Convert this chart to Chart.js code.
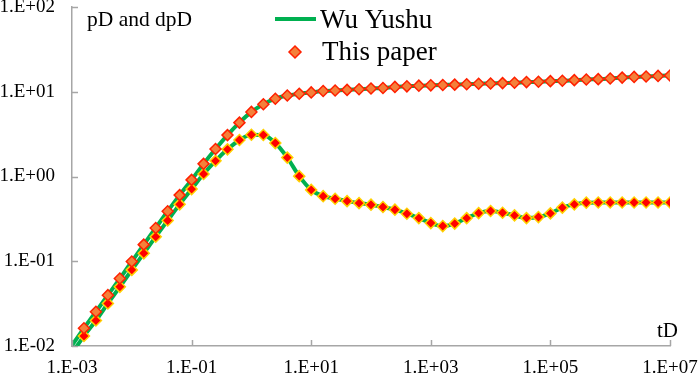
<!DOCTYPE html>
<html><head><meta charset="utf-8">
<script src="https://cdn.jsdelivr.net/npm/chart.js@4.4.0/dist/chart.umd.min.js"></script>
<style>html,body{margin:0;padding:0;background:#fff;}#wrap{width:699px;height:376px;position:relative;}</style>
</head><body><div id="wrap"><canvas id="c" width="699" height="376"></canvas></div>
<script>
// dimensionless time (markers every 0.2 log cycle)
const tD = [
 1.585e-3,2.512e-3,3.981e-3,6.310e-3,
 1e-2,1.585e-2,2.512e-2,3.981e-2,6.310e-2,
 1e-1,1.585e-1,2.512e-1,3.981e-1,6.310e-1,
 1,1.585,2.512,3.981,6.310,
 10,15.85,25.12,39.81,63.10,
 100,158.5,251.2,398.1,631.0,
 1e3,1.585e3,2.512e3,3.981e3,6.310e3,
 1e4,1.585e4,2.512e4,3.981e4,6.310e4,
 1e5,1.585e5,2.512e5,3.981e5,6.310e5,
 1e6,1.585e6,2.512e6,3.981e6,6.310e6,
 1e7
];
// This paper: pD
const paperPD = [
 0.0162,0.0254,0.0398,0.0625,
 0.0991,0.157,0.247,0.389,0.603,
 0.912,1.41,2.11,3.08,4.32,
 5.78,7.13,8.28,9.02,9.46,
 9.82,10.19,10.33,10.52,10.72,
 10.94,11.09,11.40,11.59,11.80,
 11.91,12.02,12.13,12.25,12.42,
 12.53,12.65,12.76,13.00,13.12,
 13.34,13.46,13.71,13.96,14.09,
 14.35,14.69,14.96,15.14,15.38,
 15.56
];
// This paper: dpD
const paperDPD = [
 0.0131,0.0200,0.0318,0.0499,
 0.0791,0.124,0.195,0.303,0.469,
 0.710,1.07,1.53,2.09,2.70,
 3.11,3.09,2.48,1.67,1.01,
 0.695,0.586,0.547,0.512,0.485,
 0.465,0.436,0.406,0.364,0.323,
 0.282,0.260,0.278,0.323,0.370,
 0.391,0.374,0.348,0.323,0.332,
 0.367,0.429,0.469,0.491,0.494,
 0.494,0.494,0.494,0.494,0.494,
 0.494
];
// Wu Yushu curves (start at tD = 1e-3)
const wuT = [1e-3].concat(tD);
const wuPD = [0.0102].concat(paperPD);
const wuDPD = [0.00826].concat(paperDPD);

const xTickValues = [1e-3,1e-1,1e1,1e3,1e5,1e7];
const xTickLabels = ['1.E-03','1.E-01','1.E+01','1.E+03','1.E+05','1.E+07'];
const yTickValues = [1e-2,1e-1,1,1e1,1e2];
const yTickLabels = ['1.E-02','1.E-01','1.E+00','1.E+01','1.E+02'];

const seriesNames = ['Wu Yushu','This paper'];
const yTitle = 'pD and dpD';
const xTitle = 'tD';

const FONT = '"Liberation Serif", "Times New Roman", serif';
const GREEN = '#00b050';
const AXIS = '#a6a6a6';

const pts = (xs, ys) => xs.map((x, i) => ({x: x, y: ys[i]}));

const decor = {
  id: 'decor',
  afterDraw(chart) {
    const ctx = chart.ctx, xs = chart.scales.x, ys = chart.scales.y;
    const ca = chart.chartArea;
    ctx.save();
    // inner tick marks
    ctx.strokeStyle = AXIS; ctx.lineWidth = 1.5;
    ctx.beginPath();
    yTickValues.forEach(v => { const y = Math.round(ys.getPixelForValue(v)) + 0.5; ctx.moveTo(ca.left, y); ctx.lineTo(ca.left + 6, y); });
    xTickValues.forEach(v => { const x = Math.round(xs.getPixelForValue(v)) + 0.5; ctx.moveTo(x, ca.bottom); ctx.lineTo(x, ca.bottom - 6); });
    ctx.stroke();
    // axis titles
    ctx.fillStyle = '#000';
    ctx.textBaseline = 'alphabetic';
    ctx.textAlign = 'left';
    ctx.font = '21.5px ' + FONT;
    ctx.fillText(yTitle, 87, 26);
    ctx.font = '21px ' + FONT;
    ctx.fillText(xTitle, 657, 337);
    // legend
    ctx.strokeStyle = GREEN; ctx.lineWidth = 4;
    ctx.beginPath(); ctx.moveTo(275, 19); ctx.lineTo(316, 19); ctx.stroke();
    ctx.font = '27px ' + FONT;
    ctx.fillText(seriesNames[0], 320, 28);
    ctx.fillText(seriesNames[1], 322, 60);
    ctx.fillStyle = '#f4803a'; ctx.strokeStyle = '#ff2000'; ctx.lineWidth = 1.5;
    ctx.beginPath(); ctx.moveTo(295, 46); ctx.lineTo(301, 52); ctx.lineTo(295, 58); ctx.lineTo(289, 52); ctx.closePath();
    ctx.fill(); ctx.stroke();
    ctx.restore();
  }
};

new Chart(document.getElementById('c'), {
  type: 'scatter',
  data: {
    datasets: [
      {label: seriesNames[1], data: pts(tD, paperPD), showLine: false, pointStyle: 'rectRot', pointRadius: 5.5, pointBackgroundColor: '#f4803a', pointBorderColor: '#ff2000', pointBorderWidth: 1.5, order: 1},
      {label: seriesNames[1], data: pts(tD, paperDPD), showLine: false, pointStyle: 'rectRot', pointRadius: 5.5, pointBackgroundColor: '#ff0000', pointBorderColor: '#ffd000', pointBorderWidth: 1.5, order: 1},
      {label: seriesNames[0], data: pts(wuT, wuPD), showLine: true, borderColor: GREEN, borderWidth: 4, pointRadius: 0, cubicInterpolationMode: 'monotone', fill: false, order: 2},
      {label: seriesNames[0], data: pts(wuT, wuDPD), showLine: true, borderColor: GREEN, borderWidth: 4, pointRadius: 0, cubicInterpolationMode: 'monotone', fill: false, order: 2}
    ]
  },
  options: {
    responsive: false, animation: false, devicePixelRatio: 1,
    layout: {padding: {top: 6, right: 29, left: 0, bottom: 0}},
    plugins: {legend: {display: false}, tooltip: {enabled: false}},
    scales: {
      x: {
        type: 'logarithmic', min: 1e-3, max: 1e7, position: 'bottom',
        border: {display: true, color: AXIS, width: 1.5},
        grid: {display: true, drawOnChartArea: false, drawTicks: false},
        ticks: {font: {family: FONT, size: 19}, color: '#000', padding: 11, maxRotation: 0, autoSkip: false,
          callback: (v, i) => xTickLabels[i]},
        afterBuildTicks: s => { s.ticks = xTickValues.map(v => ({value: v})); },
        afterFit: s => { s.height = 30; s.paddingLeft = 0; s.paddingRight = 0; }
      },
      y: {
        type: 'logarithmic', min: 1e-2, max: 1e2, position: 'left',
        border: {display: true, color: AXIS, width: 1.5},
        grid: {display: true, drawOnChartArea: false, drawTicks: false},
        ticks: {font: {family: FONT, size: 19}, color: '#000', padding: 17, autoSkip: false,
          callback: (v, i) => yTickLabels[i]},
        afterBuildTicks: s => { s.ticks = yTickValues.map(v => ({value: v})); },
        afterFit: s => { s.width = 72; s.paddingTop = 0; s.paddingBottom = 0; }
      }
    }
  },
  plugins: [decor]
});
</script></body></html>
